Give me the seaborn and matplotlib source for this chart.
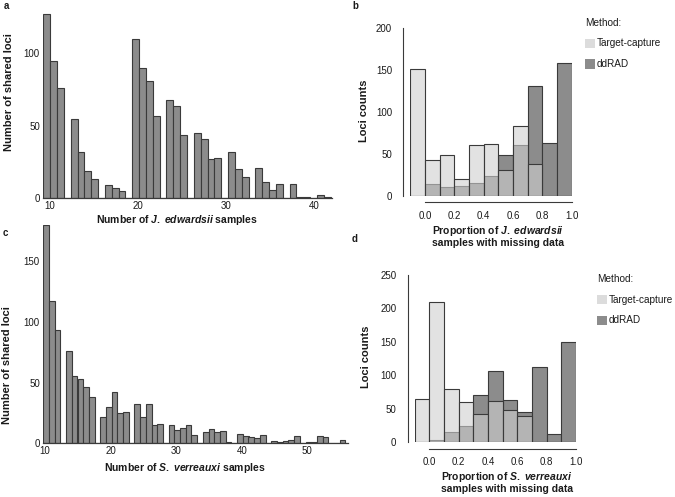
import numpy as np
import pandas as pd
import matplotlib
matplotlib.use("Agg")
import matplotlib.pyplot as plt
import seaborn as sns
from matplotlib.patches import Rectangle

# ------------------------------------------------------------------ data
# Panel a: number of shared loci vs number of J. edwardsii samples (histogram bins)
a_counts = [127, 95, 76, 0, 55, 32, 19, 13, 0, 9, 7, 5, 0, 110, 90, 81, 57, 0,
            68, 64, 44, 0, 45, 41, 27, 28, 0, 32, 20, 15, 0, 21, 11, 6, 10, 0,
            10, 1, 1, 0, 2, 1]
a_range = (9.32, 41.83)
a_xticks = [10, 20, 30, 40]
a_yticks = [0, 50, 100]

# Panel c: number of shared loci vs number of S. verreauxi samples
c_counts = [180, 117, 93, 0, 76, 55, 53, 46, 38, 0, 22, 30, 42, 25, 26, 0,
            32, 22, 32, 15, 16, 0, 15, 11, 13, 15, 7, 0, 9, 12, 9, 10, 1, 0,
            8, 6, 5, 4, 7, 0, 2, 1, 2, 3, 6, 0, 1, 1, 6, 5, 0, 0, 3]
c_range = (9.74, 55.8)
c_xticks = [10, 20, 30, 40, 50]
c_yticks = [0, 50, 100, 150]

# Panels b / d: loci counts per proportion of samples with missing data
prop_edges = [-0.1, 0.0, 0.1, 0.2, 0.3, 0.4, 0.5, 0.6, 0.7, 0.8, 0.9, 1.0]
prop_ticks = [0.0, 0.2, 0.4, 0.6, 0.8, 1.0]
b_target = [151, 42, 48, 20, 60, 62, 31, 83, 38, 0, 0]
b_ddrad = [0, 14, 10, 12, 15, 24, 48, 60, 131, 63, 158]
b_yticks = [0, 50, 100, 150, 200]
d_target = [64, 209, 79, 60, 42, 62, 48, 40, 0, 0, 0]
d_ddrad = [0, 4, 15, 24, 70, 107, 63, 45, 113, 13, 150]
d_yticks = [0, 50, 100, 150, 200, 250]
methods = ["Target-capture", "ddRAD"]

# ------------------------------------------------------------------ style
sns.set_theme(style="white")
plt.rcParams["font.family"] = ["Liberation Sans", "DejaVu Sans"]
plt.rcParams["mathtext.fontset"] = "custom"
plt.rcParams["mathtext.it"] = "Liberation Sans:italic:bold"
plt.rcParams["mathtext.rm"] = "Liberation Sans:bold"
plt.rcParams["mathtext.bf"] = "Liberation Sans:bold"

BAR_FACE = "#8c8c8c"
EDGE = "#3a3a3a"
TC_FACE = "#d0d0d0"
TC_ALPHA = 0.6
TXT = "#1a1a1a"
TICK_FS = 7
LAB_FS = 7.5
YLAB_FS = 8
LEG_FS = 7.2

W, H = 675, 497
fig = plt.figure(figsize=(W / 100, H / 100), dpi=100)


def ax_px(left, top, right, bottom):
    return fig.add_axes([left / W, 1 - bottom / H, (right - left) / W, (bottom - top) / H])


def ftext(x, y, s, **kw):
    return fig.text(x / W, 1 - y / H, s, **kw)


def draw_hist(ax, counts, edges, **kw):
    edges = [float(e) for e in edges]
    centers = [(edges[i] + edges[i + 1]) / 2 for i in range(len(edges) - 1)]
    df = pd.DataFrame({"value": centers, "count": [float(c) for c in counts]})
    sns.histplot(data=df, x="value", weights="count", bins=edges, ax=ax, **kw)


def style_count_axes(ax, xlim, ylim, xticks, yticks):
    ax.set_xlim(*xlim)
    ax.set_ylim(*ylim)
    ax.set_xticks(xticks)
    ax.set_yticks(yticks)
    ax.set_xlabel("")
    ax.set_ylabel("")
    for s in ["left", "top", "right"]:
        ax.spines[s].set_visible(False)
    ax.spines["bottom"].set_color(EDGE)
    ax.spines["bottom"].set_linewidth(0.9)
    ax.tick_params(axis="both", length=0, labelsize=TICK_FS, colors=TXT)
    ax.tick_params(axis="x", pad=2)
    ax.tick_params(axis="y", pad=2.5)
    ax.grid(False)


def style_prop_axes(ax, ymax, yticks):
    ax.set_xlim(-0.1, 1.0)
    ax.set_ylim(0, ymax)
    ax.set_xticks(prop_ticks)
    ax.set_xticklabels([f"{t:.1f}" for t in prop_ticks])
    ax.set_yticks(yticks)
    ax.set_xlabel("")
    ax.set_ylabel("")
    for s in ["top", "right"]:
        ax.spines[s].set_visible(False)
    ax.spines["left"].set_position(("outward", 5))
    ax.spines["bottom"].set_position(("outward", 4.5))
    ax.spines["left"].set_bounds(0, ymax)
    ax.spines["bottom"].set_bounds(0, 1.0)
    for s in ["left", "bottom"]:
        ax.spines[s].set_color(EDGE)
        ax.spines[s].set_linewidth(0.8)
    ax.tick_params(axis="both", direction="out", length=4.2, width=0.8,
                   color=EDGE, labelsize=TICK_FS, labelcolor=TXT)
    ax.tick_params(axis="y", pad=4)
    ax.tick_params(axis="x", pad=2)
    ax.grid(False)


# ------------------------------------------------------------------ panel a
ax_a = ax_px(43.3, 12.7, 331.7, 198.3)
a_edges = np.linspace(a_range[0], a_range[1], len(a_counts) + 1)
draw_hist(ax_a, a_counts, a_edges, color=BAR_FACE, edgecolor=EDGE,
          linewidth=0.8, alpha=1)
a_units = (a_range[1] - a_range[0]) / 287.4
style_count_axes(ax_a, (a_range[0], a_range[0] + 288.4 * a_units), (0, 128),
                 a_xticks, a_yticks)

# ------------------------------------------------------------------ panel c
ax_c = ax_px(43.3, 224.6, 348, 443.3)
c_edges = np.linspace(c_range[0], c_range[1], len(c_counts) + 1)
draw_hist(ax_c, c_counts, c_edges, color=BAR_FACE, edgecolor=EDGE,
          linewidth=0.8, alpha=1)
c_units = (c_range[1] - c_range[0]) / 302.1
style_count_axes(ax_c, (c_range[0], c_range[0] + 304.7 * c_units), (0, 180),
                 c_xticks, c_yticks)

# ------------------------------------------------------------------ panels b, d
ax_b = ax_px(410.3, 28, 571.7, 195.7)
ax_d = ax_px(414.7, 275, 576.1, 442.3)
for ax, tc, dd, ymax, yt in [(ax_b, b_target, b_ddrad, 200, b_yticks),
                              (ax_d, d_target, d_ddrad, 250, d_yticks)]:
    draw_hist(ax, dd, prop_edges, color=BAR_FACE, edgecolor=EDGE,
              linewidth=0.8, alpha=1)
    draw_hist(ax, tc, prop_edges, color=TC_FACE, edgecolor=EDGE,
              linewidth=0.8, alpha=TC_ALPHA)
    style_prop_axes(ax, ymax, yt)

# ------------------------------------------------------------------ labels
ftext(177.5, 220, r"Number of $\mathit{J.}$ $\mathit{edwardsii}$ samples", ha="center",
      va="center", fontsize=LAB_FS, fontweight="bold", color=TXT)
ftext(9, 92, "Number of shared loci", ha="center", va="center", rotation=90,
      fontsize=YLAB_FS, fontweight="bold", color=TXT)
ftext(185, 468.3, r"Number of $\mathit{S.}$ $\mathit{verreauxi}$ samples", ha="center",
      va="center", fontsize=LAB_FS, fontweight="bold", color=TXT)
ftext(7, 365, "Number of shared loci", ha="center", va="center", rotation=90,
      fontsize=YLAB_FS, fontweight="bold", color=TXT)

ftext(364, 111, "Loci counts", ha="center", va="center", rotation=90,
      fontsize=YLAB_FS, fontweight="bold", color=TXT)
ftext(498, 236, "Proportion of $\\mathit{J.}$ $\\mathit{edwardsii}$\nsamples with missing data",
      ha="center", va="center", multialignment="center", linespacing=1.0,
      fontsize=LAB_FS, fontweight="bold", color=TXT)

ftext(366, 357, "Loci counts", ha="center", va="center", rotation=90,
      fontsize=YLAB_FS, fontweight="bold", color=TXT)
ftext(507, 482.5, "Proportion of $\\mathit{S.}$ $\\mathit{verreauxi}$\nsamples with missing data",
      ha="center", va="center", multialignment="center", linespacing=1.0,
      fontsize=LAB_FS, fontweight="bold", color=TXT)

# panel letters
for x, y, s in [(6.7, 6, "a"), (355, 6, "b"), (5, 233, "c"), (355, 238.5, "d")]:
    ftext(x, y, s, ha="center", va="center", fontsize=7, fontweight="bold", color=TXT)

# ------------------------------------------------------------------ legends
legend_colors = ["#dcdcdc", BAR_FACE]
for (tx, ty, rows) in [(585.3, 23.3, [43.5, 63.8]),
                       (596.7, 279.2, [299.7, 320.2])]:
    ftext(tx, ty, "Method:", ha="left", va="center", fontsize=LEG_FS, color=TXT)
    for name, col, cy in zip(methods, legend_colors, rows):
        fig.add_artist(Rectangle((tx / W, 1 - (cy + 4.7) / H), 10 / W, 9.4 / H,
                                 transform=fig.transFigure, facecolor=col,
                                 edgecolor="none"))
        ftext(tx + 11.7, cy, name, ha="left", va="center", fontsize=LEG_FS, color=TXT)

fig.savefig("out.png", dpi=100)
